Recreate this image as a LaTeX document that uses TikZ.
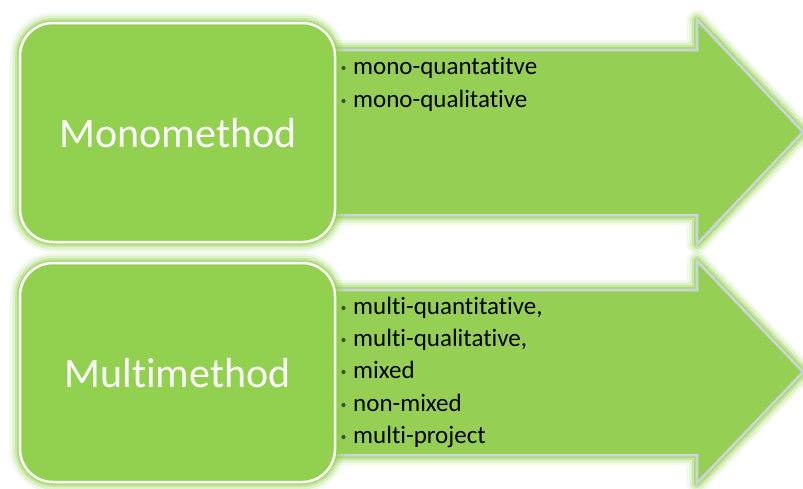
\documentclass[tikz,border=0pt]{standalone}
\usepackage{fontspec}
\setmainfont[Ligatures={NoCommon}]{Carlito}

\definecolor{leaf}{HTML}{92D050}
\definecolor{arrowfill}{HTML}{95D055}
\definecolor{halo}{HTML}{8FD04A}
\definecolor{rim}{HTML}{CCD5DD}
\definecolor{bulletgray}{HTML}{3E4A34}

\tikzset{
  softglow/.style={
    preaction={draw=halo, line width=20pt, draw opacity=.12, line join=round},
    preaction={draw=halo, line width=15pt, draw opacity=.18, line join=round},
    preaction={draw=halo, line width=10pt, draw opacity=.30, line join=round},
    preaction={draw=halo, line width=6pt,  draw opacity=.50, line join=round}},
  methodbox/.style={softglow, draw=white, line width=2.5pt, fill=leaf,
    rounded corners=33pt, minimum width=315pt, minimum height=219pt,
    inner sep=0pt, outer sep=0pt},
  bigarrow/.style={softglow, draw=rim, line width=2.5pt, fill=arrowfill,
    line join=miter},
  boxlabel/.style={text=white, font=\fontsize{42}{50}\selectfont, inner sep=0pt},
  item/.style={text=black, font=\fontsize{25}{30}\selectfont, inner sep=0pt,
    anchor=base west},
  dot/.style={circle, fill=bulletgray, minimum size=4.2pt, inner sep=0pt}
}

\begin{document}
\begin{tikzpicture}[x=1pt, y=-1pt]
  \useasboundingbox (0,0) rectangle (803,488);

  % upper row: arrow behind the rounded box
  \draw[bigarrow] (300,50) -- (697,50) -- (697,20) -- (803,132)
        -- (697,244) -- (697,215) -- (300,215) -- cycle;
  \node[methodbox] (mono) at (177.5,132.5) {};
  \node[boxlabel, anchor=base] (monotext) at (178,147) {Monomethod};

  \node[item] (m1) at (353,74)  {mono-quantatitve};
  \node[item] (m2) at (353,107) {mono-qualitative};

  % lower row
  \draw[bigarrow] (300,290) -- (697,290) -- (697,261) -- (803,372)
        -- (697,483) -- (697,455) -- (300,455) -- cycle;
  \node[methodbox] (multi) at (177.5,372.5) {};
  \node[boxlabel, anchor=base] (multitext) at (177.5,387) {Multimethod};

  \node[item] (u1) at (353,314) {multi-quantitative,};
  \node[item] (u2) at (353,346) {multi-qualitative,};
  \node[item] (u3) at (353,378) {mixed};
  \node[item] (u4) at (353,411) {non-mixed};
  \node[item] (u5) at (353,443) {multi-project};

  % bullets in front of each item
  \foreach \n in {m1,m2,u1,u2,u3,u4,u5}
    \node[dot] (dot-\n) at ([xshift=-9.5pt, yshift=6pt]\n.base west) {};
\end{tikzpicture}
\end{document}
